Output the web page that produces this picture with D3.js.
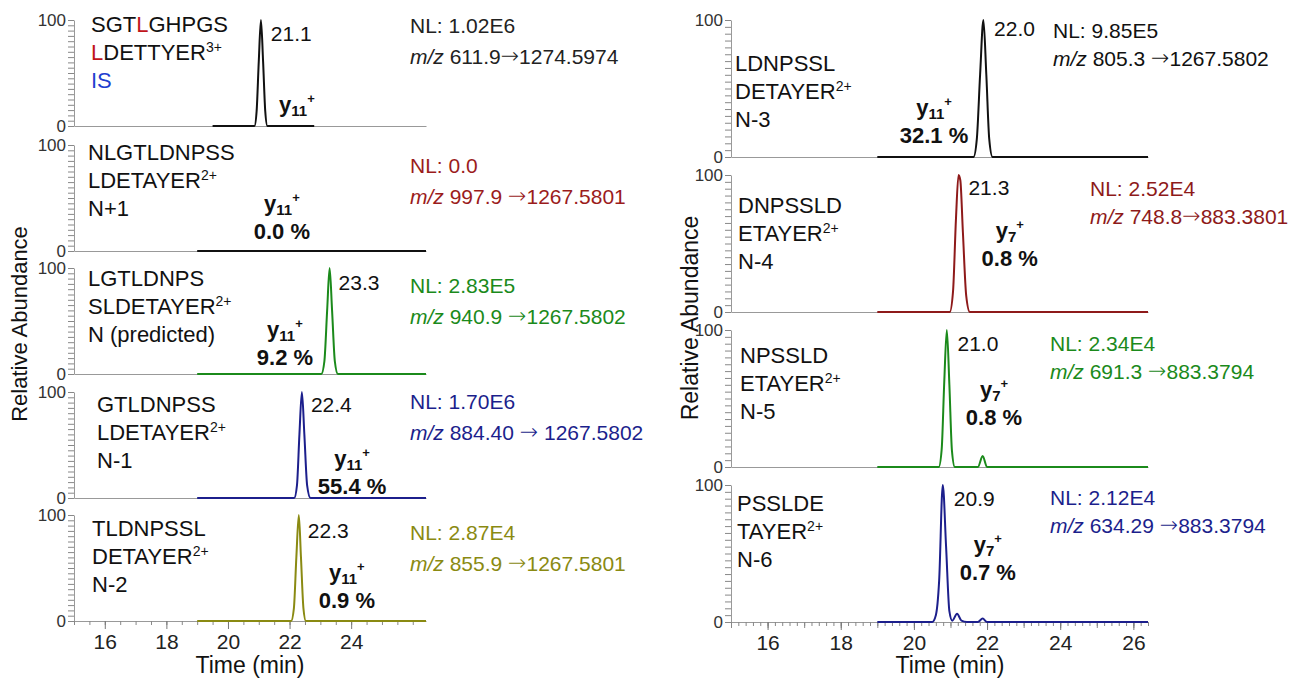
<!DOCTYPE html>
<html><head><meta charset="utf-8">
<script src="https://cdn.jsdelivr.net/npm/d3@7"></script>
<style>
body{margin:0;background:#fff}
text{font-family:"Liberation Sans",Arial,sans-serif}
</style>
</head><body>
<svg id="chart" width="1313" height="685"></svg>
<script>
// ---- data ----
const leftNames = [
  ["SGT[L]GHPGS", "[L]DETTYER^3+", "{IS}"],
  ["NLGTLDNPSS", "LDETAYER^2+", "N+1"],
  ["LGTLDNPS", "SLDETAYER^2+", "N (predicted)"],
  ["GTLDNPSS", "LDETAYER^2+", "N-1"],
  ["TLDNPSSL", "DETAYER^2+", "N-2"]
];
const rightNames = [
  ["LDNPSSL", "DETAYER^2+", "N-3"],
  ["DNPSSLD", "ETAYER^2+", "N-4"],
  ["NPSSLD", "ETAYER^2+", "N-5"],
  ["PSSLDE", "TAYER^2+", "N-6"]
];
const leftNL = ["1.02E6", "0.0", "2.83E5", "1.70E6", "2.87E4"];
// precursor, spacing before arrow, spacing after arrow, product
const leftMZ = [["611.9", "", "", "1274.5974"], ["997.9", " ", "", "1267.5801"], ["940.9", " ", "", "1267.5802"],
                ["884.40", " ", " ", "1267.5802"], ["855.9", " ", "", "1267.5801"]];
const rightNL = ["9.85E5", "2.52E4", "2.34E4", "2.12E4"];
const rightMZ = [["805.3", " ", "", "1267.5802"], ["748.8", "", "", "883.3801"],
                 ["691.3", " ", "", "883.3794"], ["634.29", " ", "", "883.3794"]];
const leftRT = ["21.1", null, "23.3", "22.4", "22.3"];
const rightRT = ["22.0", "21.3", "21.0", "20.9"];
const leftIon = ["11", "11", "11", "11", "11"];
const rightIon = ["11", "7", "7", "7"];
const leftPct = [null, "0.0", "9.2", "55.4", "0.9"];
const rightPct = ["32.1", "0.8", "0.8", "0.7"];

// traces: [time (min), relative abundance]
const leftTraces = [
  [[19.5,0],[20.86,0],[20.93,14],[21.0,61],[21.07,100],[21.14,61],[21.21,14],[21.28,0],[22.8,0]],
  [[19,0],[26.43,0]],
  [[19,0],[23.03,0],[23.13,12],[23.22,60],[23.3,100],[23.38,60],[23.47,12],[23.57,0],[26.43,0]],
  [[19,0],[22.15,0],[22.24,12],[22.32,60],[22.4,100],[22.48,60],[22.57,12],[22.68,0],[26.43,0]],
  [[19,0],[22.05,0],[22.14,12],[22.22,60],[22.3,100],[22.37,60],[22.45,12],[22.53,0],[26.43,0]]
];
const rightTraces = [
  [[19,0],[21.63,0],[21.72,13],[21.81,60],[21.9,100],[21.98,60],[22.06,13],[22.15,0],[26.4,0]],
  [[19,0],[20.98,0],[21.07,15],[21.15,68],[21.22,100],[21.27,96],[21.34,58],[21.43,12],[21.53,0],[26.4,0]],
  [[19,0],[20.68,0],[20.76,13],[20.83,62],[20.9,100],[20.97,60],[21.04,12],[21.12,0],[21.75,0],[21.88,8],[22.0,0],[26.4,0]],
  [[19,0],[20.5,0],[20.6,5],[20.69,30],[20.79,100],[20.88,55],[20.97,8],[21.05,1],[21.18,6],[21.3,1],[21.45,0],[21.75,0],[21.88,2.5],[22.0,0],[26.4,0]]
];
const leftTicks = [16, 18, 20, 22, 24];
const rightTicks = [16, 18, 20, 22, 24, 26];

// ---- layout / style ----
const leftColors = ["#111", "#111", "#1b8a1b", "#1c1f8c", "#8a8a12"];
const leftNLColors = ["#222", "#9b1c1c", "#1b8a1b", "#1c1f8c", "#8a8a12"];
const rightColors = ["#111", "#8e1a1a", "#1b8a1b", "#1c1f8c"];
const red = "#c0141a", blue = "#1f3fd0";

const leftCol = {
  domain: [15, 26.43], range: [74, 426], tops: [20, 145, 268, 392, 515], h: 106,
  names: [[91,24],[88,152],[88,278],[97,404],[92,528]], lineGap: 28,
  nlX: [410,410,410,410,410], nlY: [25,165,285,401,532], nlGap: 31,
  rtDx: 9, rtY: [33, 0, 282, 404, 530],
  ion: [[22.24,18],[21.75,42],[21.85,40],[24.03,35],[23.86,43]],
  ticks: leftTicks, minor: 0.5, mid: null
};
const rightCol = {
  domain: [15, 26.4], range: [731, 1148], tops: [20, 175, 330, 485], h: 137,
  names: [[735,63],[738,205],[740,355],[737,503]], lineGap: 28,
  nlX: [1053,1090,1050,1050], nlY: [30,188,343,497], nlGap: 28,
  rtDx: 7, rtY: [28, 187, 343, 498],
  ion: [[20.55,34],[22.62,58],[22.19,55],[22.02,55]],
  ticks: rightTicks, minor: 0.2, mid: 1
};

const svg = d3.select("#chart");
svg.append("rect").attr("width", 1313).attr("height", 685).attr("fill", "#fff");

function nameLine(t, str, dark) {
  // [X] -> red letter, {X} -> blue, ^n+ -> superscript charge
  let main = str, charge = null;
  const k = str.indexOf("^");
  if (k >= 0) { main = str.slice(0, k); charge = str.slice(k + 1); }
  main.split(/(\[[^\]]+\]|\{[^}]+\})/).filter(s => s.length).forEach(p => {
    let col = dark, txt = p;
    if (p[0] === "[") { col = red; txt = p.slice(1, -1); }
    if (p[0] === "{") { col = blue; txt = p.slice(1, -1); }
    t.append("tspan").attr("fill", col).text(txt);
  });
  if (charge) t.append("tspan").attr("font-size", 14).attr("dy", -8).attr("fill", dark).text(charge);
}

function drawColumn(col, names, traces, colors, nlColors, nl, mz, rt, ions, pct) {
  const x = d3.scaleLinear().domain(col.domain).range(col.range);
  const n = traces.length;
  traces.forEach((tr, i) => {
    const top = col.tops[i], bot = top + col.h;
    const y = d3.scaleLinear().domain([0, 100]).range([bot, top]);
    const g = svg.append("g");

    // y axis
    const ya = g.append("g").attr("transform", `translate(${col.range[0]},0)`)
      .call(d3.axisLeft(y).tickValues(d3.range(0, 101, 5)).tickSize(6).tickSizeOuter(0).tickPadding(2)
        .tickFormat(d => (d === 0 || d === 100) ? d : ""));
    ya.select(".domain").attr("stroke", "#999");
    ya.selectAll(".tick line").attr("stroke", "#888");
    ya.selectAll("text").attr("font-size", 17).attr("fill", "#333")
      .attr("font-family", "Liberation Sans, Arial, sans-serif");

    // baseline (x axis)
    const xa = g.append("g").attr("transform", `translate(0,${bot})`);
    if (i === n - 1) {
      const minor = d3.range(col.domain[0], col.domain[1] + 1e-6, col.minor);
      xa.call(d3.axisBottom(x).tickValues(minor).tickSize(4).tickSizeOuter(0).tickFormat(""));
      if (col.mid) {
        const xm = g.append("g").attr("transform", `translate(0,${bot})`)
          .call(d3.axisBottom(x).tickValues(d3.range(15, 26.5, col.mid)).tickSize(6).tickFormat(""));
        xm.select(".domain").remove();
        xm.selectAll(".tick line").attr("stroke", "#888");
      }
      const xM = g.append("g").attr("transform", `translate(0,${bot})`)
        .call(d3.axisBottom(x).tickValues(col.ticks).tickSize(8).tickPadding(5).tickFormat(d3.format("d")));
      xM.select(".domain").remove();
      xM.selectAll(".tick line").attr("stroke", "#777");
      xM.selectAll("text").attr("font-size", 21).attr("fill", "#222")
        .attr("font-family", "Liberation Sans, Arial, sans-serif");
    } else {
      xa.call(d3.axisBottom(x).tickValues([]).tickSizeOuter(0));
    }
    xa.select(".domain").attr("stroke", "#999");
    xa.selectAll(".tick line").attr("stroke", "#888");

    // trace
    g.append("path").datum(tr)
      .attr("fill", "none").attr("stroke", colors[i]).attr("stroke-width", 2)
      .attr("stroke-linejoin", "round")
      .attr("d", d3.line().x(d => x(d[0])).y(d => y(d[1])).curve(d3.curveMonotoneX));

    // peptide name
    names[i].forEach((ln, j) => {
      const t = g.append("text").attr("x", col.names[i][0]).attr("y", col.names[i][1] + j * col.lineGap + 8)
        .attr("font-size", 22).attr("fill", "#111");
      nameLine(t, ln, "#111");
    });

    // NL + transition
    g.append("text").attr("x", col.nlX[i]).attr("y", col.nlY[i] + 8)
      .attr("font-size", 21).attr("fill", nlColors[i]).text("NL: " + nl[i]);
    const m = g.append("text").attr("x", col.nlX[i]).attr("y", col.nlY[i] + col.nlGap + 8)
      .attr("font-size", 21).attr("fill", nlColors[i]).attr("xml:space", "preserve");
    m.append("tspan").attr("font-style", "italic").text("m/z");
    m.append("tspan").text(" " + mz[i][0] + mz[i][1]);
    m.append("tspan").attr("font-family", "DejaVu Sans").attr("font-weight", 200)
      .attr("font-size", 22).attr("dy", -1).text("\u2192");
    m.append("tspan").attr("dy", 1).text(mz[i][2] + mz[i][3]);

    // retention time
    if (rt[i]) {
      g.append("text").attr("x", x(+rt[i]) + col.rtDx).attr("y", col.rtY[i] + 8)
        .attr("font-size", 21).attr("fill", "#111").text(rt[i]);
    }

    // ion label
    const ix = x(col.ion[i][0]), iy = y(col.ion[i][1]);
    const it = g.append("text").attr("x", ix).attr("y", iy + 5).attr("text-anchor", "middle")
      .attr("font-size", 22).attr("font-weight", "bold").attr("fill", "#111");
    it.append("tspan").text("y");
    it.append("tspan").attr("font-size", 15).attr("dy", 4).text(ions[i]);
    it.append("tspan").attr("font-size", 13).attr("dy", -13).text("+");
    if (pct[i]) {
      g.append("text").attr("x", ix).attr("y", iy + 33).attr("text-anchor", "middle")
        .attr("font-size", 22).attr("font-weight", "bold").attr("fill", "#111").text(pct[i] + " %");
    }
  });
}

drawColumn(leftCol, leftNames, leftTraces, leftColors, leftNLColors, leftNL, leftMZ, leftRT, leftIon, leftPct);
drawColumn(rightCol, rightNames, rightTraces, rightColors, rightColors, rightNL, rightMZ, rightRT, rightIon, rightPct);

// axis titles
svg.append("text").attr("transform", "translate(27,324) rotate(-90)").attr("text-anchor", "middle")
  .attr("font-size", 22).attr("fill", "#111").text("Relative Abundance");
svg.append("text").attr("transform", "translate(698,318) rotate(-90)").attr("text-anchor", "middle")
  .attr("font-size", 23).attr("fill", "#111").text("Relative Abundance");
svg.append("text").attr("x", 250).attr("y", 673).attr("text-anchor", "middle")
  .attr("font-size", 23).attr("fill", "#111").text("Time (min)");
svg.append("text").attr("x", 950).attr("y", 673).attr("text-anchor", "middle")
  .attr("font-size", 23).attr("fill", "#111").text("Time (min)");
</script>
</body></html>
